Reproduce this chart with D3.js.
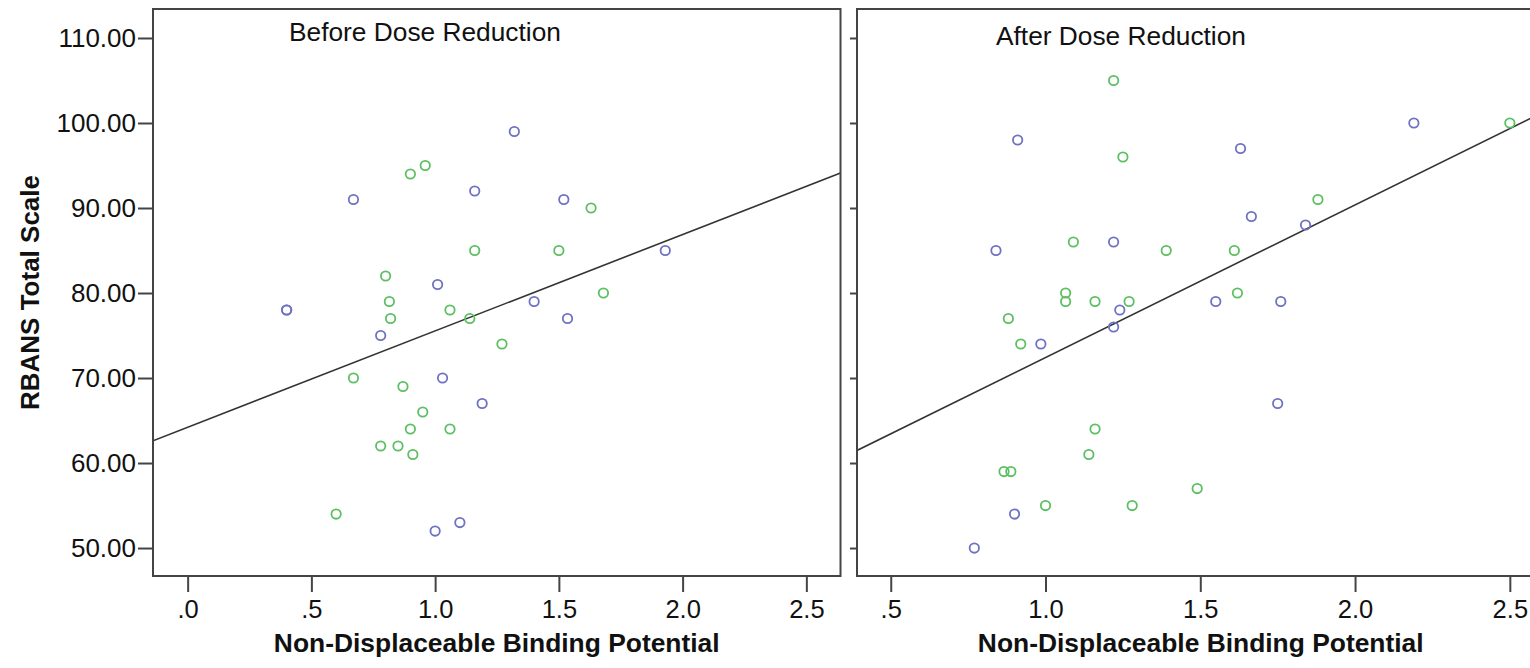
<!DOCTYPE html>
<html>
<head>
<meta charset="utf-8">
<script src="https://cdn.jsdelivr.net/npm/d3@7"></script>
<style>
  html, body { margin: 0; padding: 0; background: #fff; }
  svg { display: block; font-family: "Liberation Sans", Arial, sans-serif; }
</style>
</head>
<body>
<svg id="chart" width="1530" height="668"></svg>
<script>
// RBANS total scale vs. non-displaceable binding potential, two phases

const panelTitles = ["Before Dose Reduction", "After Dose Reduction"];

// Before dose reduction: [BPND, RBANS]
const beforeGroupA = [ // blue
  [0.40, 78], [0.40, 78], [0.67, 91], [0.78, 75], [1.00, 52], [1.01, 81],
  [1.03, 70], [1.10, 53], [1.16, 92], [1.19, 67], [1.32, 99], [1.40, 79],
  [1.52, 91], [1.535, 77], [1.93, 85]
];
const beforeGroupB = [ // green
  [0.60, 54], [0.67, 70], [0.78, 62], [0.80, 82], [0.815, 79], [0.82, 77],
  [0.85, 62], [0.87, 69], [0.90, 94], [0.90, 64], [0.91, 61], [0.95, 66],
  [0.96, 95], [1.06, 78], [1.06, 64], [1.14, 77], [1.16, 85], [1.27, 74],
  [1.50, 85], [1.63, 90], [1.68, 80]
];

// After dose reduction
const afterGroupA = [ // blue
  [0.77, 50], [0.84, 85], [0.90, 54], [0.91, 98], [0.985, 74], [1.22, 86],
  [1.22, 76], [1.24, 78], [1.55, 79], [1.63, 97], [1.665, 89], [1.75, 67],
  [1.76, 79], [1.84, 88], [2.19, 100]
];
const afterGroupB = [ // green
  [0.866, 59], [0.888, 59], [0.88, 77], [0.92, 74], [1.00, 55], [1.065, 80],
  [1.065, 79], [1.09, 86], [1.14, 61], [1.16, 64], [1.16, 79], [1.22, 105],
  [1.25, 96], [1.27, 79], [1.28, 55], [1.39, 85], [1.49, 57], [1.61, 85],
  [1.62, 80], [1.88, 91], [2.50, 100]
];

// Fit lines: [intercept, slope]
const beforeFit = [64.2, 11.34];
const afterFit = [54.45, 17.96];

// Axis domains and ticks
const yDomain = [46.71, 113.41];
const yTicks = [50, 60, 70, 80, 90, 100, 110];
const yTickLabels = ["50.00", "60.00", "70.00", "80.00", "90.00", "100.00", "110.00"];
const beforeXDomain = [-0.14, 2.638];
const afterXDomain = [0.391, 2.612];
const beforeXTicks = [0, 0.5, 1.0, 1.5, 2.0, 2.5];
const beforeXTickLabels = [".0", ".5", "1.0", "1.5", "2.0", "2.5"];
const afterXTicks = [0.5, 1.0, 1.5, 2.0, 2.5];
const afterXTickLabels = [".5", "1.0", "1.5", "2.0", "2.5"];

const xTitle = "Non-Displaceable Binding Potential";
const yTitle = "RBANS Total Scale";

const colorA = "#6e72c2";
const colorB = "#5cbf62";
const frameColor = "#444";

const svg = d3.select("#chart");
const plotTop = 9, plotBottom = 576, panelW = 687.5;

const panels = [
  { left: 153, xDomain: beforeXDomain, ticks: beforeXTicks, tickLabels: beforeXTickLabels,
    a: beforeGroupA, b: beforeGroupB, fit: beforeFit, title: panelTitles[0],
    titleX: 289, titleY: 41, yLabels: true, yTickLen: 15 },
  { left: 857, xDomain: afterXDomain, ticks: afterXTicks, tickLabels: afterXTickLabels,
    a: afterGroupA, b: afterGroupB, fit: afterFit, title: panelTitles[1],
    titleX: 996, titleY: 45, yLabels: false, yTickLen: 7 }
];

const y = d3.scaleLinear().domain(yDomain).range([plotBottom, plotTop]);

panels.forEach((p, i) => {
  const x = d3.scaleLinear().domain(p.xDomain).range([p.left, p.left + panelW]);
  const g = svg.append("g");

  const clipId = "clip" + i;
  svg.append("clipPath").attr("id", clipId)
    .append("rect").attr("x", p.left).attr("y", plotTop)
    .attr("width", panelW).attr("height", plotBottom - plotTop);

  // y axis
  const yAxis = d3.axisLeft(y).tickValues(yTicks).tickSize(p.yTickLen).tickPadding(2)
    .tickFormat((d, k) => p.yLabels ? yTickLabels[k] : "");
  const ya = g.append("g").attr("transform", `translate(${p.left},0)`).call(yAxis);
  ya.select(".domain").remove();
  ya.selectAll(".tick line").attr("stroke", frameColor).attr("stroke-width", 2);
  ya.selectAll(".tick text").attr("fill", "#111").style("font-size", "26px");

  // x axis
  const xAxis = d3.axisBottom(x).tickValues(p.ticks).tickSize(16).tickPadding(8)
    .tickFormat((d, k) => p.tickLabels[k]);
  const xa = g.append("g").attr("transform", `translate(0,${plotBottom})`).call(xAxis);
  xa.select(".domain").remove();
  xa.selectAll(".tick line").attr("stroke", frameColor).attr("stroke-width", 2);
  xa.selectAll(".tick text").attr("fill", "#111").style("font-size", "25.5px");

  // fit line
  const fx = p.xDomain;
  g.append("line")
    .attr("clip-path", `url(#${clipId})`)
    .attr("x1", x(fx[0])).attr("y1", y(p.fit[0] + p.fit[1] * fx[0]))
    .attr("x2", x(fx[1])).attr("y2", y(p.fit[0] + p.fit[1] * fx[1]))
    .attr("stroke", "#333").attr("stroke-width", 1.6);

  // points
  const pts = g.append("g").attr("clip-path", `url(#${clipId})`);
  [[p.b, colorB], [p.a, colorA]].forEach(([data, c]) => {
    pts.selectAll(null).data(data).enter().append("circle")
      .attr("cx", d => x(d[0])).attr("cy", d => y(d[1]))
      .attr("r", 4.7).attr("fill", "none")
      .attr("stroke", c).attr("stroke-width", 1.8);
  });

  // frame
  g.append("rect")
    .attr("x", p.left).attr("y", plotTop).attr("width", panelW).attr("height", plotBottom - plotTop)
    .attr("fill", "none").attr("stroke", frameColor).attr("stroke-width", 2);

  // panel title
  g.append("text").attr("x", p.titleX).attr("y", p.titleY)
    .attr("fill", "#111").style("font-size", "26.3px").text(p.title);

  // x title
  g.append("text").attr("x", p.left + panelW / 2).attr("y", 652)
    .attr("text-anchor", "middle").attr("fill", "#111")
    .style("font-size", "26.4px").style("font-weight", "bold").text(xTitle);
});

// y title
svg.append("text")
  .attr("transform", `translate(39,${(plotTop + plotBottom) / 2}) rotate(-90)`)
  .attr("text-anchor", "middle").attr("fill", "#111")
  .style("font-size", "26px").style("font-weight", "bold").text(yTitle);
</script>
</body>
</html>
